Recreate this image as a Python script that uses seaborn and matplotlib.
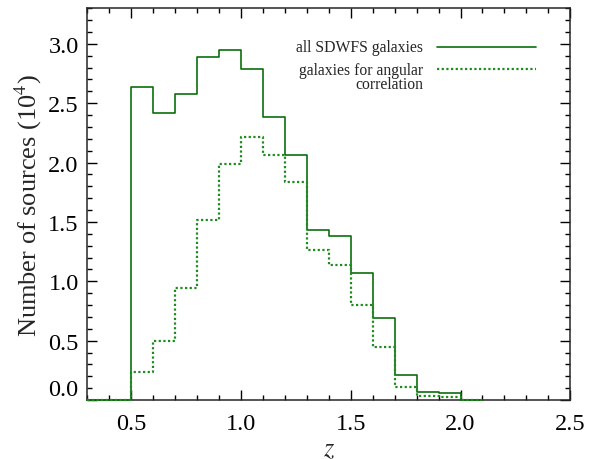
"""Redshift distribution of SDWFS galaxies — step histograms."""

import matplotlib
matplotlib.use("Agg")
import matplotlib.pyplot as plt
import numpy as np
import seaborn as sns
from matplotlib.ticker import MultipleLocator

# bin edges in z (0.1 wide) and counts in units of 10^4
bin_edges = [0.3, 0.4, 0.5, 0.6, 0.7, 0.8, 0.9, 1.0, 1.1, 1.2, 1.3,
             1.4, 1.5, 1.6, 1.7, 1.8, 1.9, 2.0, 2.1]
all_sdwfs = [0.0, 0.0, 2.64, 2.42, 2.58, 2.89, 2.945, 2.79, 2.38, 2.06,
             1.43, 1.38, 1.07, 0.69, 0.21, 0.07, 0.056, 0.0]
angular = [0.0, 0.0, 0.24, 0.50, 0.94, 1.52, 1.99, 2.215, 2.06, 1.84,
           1.26, 1.14, 0.80, 0.45, 0.11, 0.036, 0.028, 0.0]
labels = ["all SDWFS galaxies", "galaxies for angular\ncorrelation"]

GREEN = "#0b6e0b"
GREEN_DOT = "#1f8a1f"
DOTS = (0, (1, 1.1))

sns.set_style("ticks")
plt.rcParams["font.family"] = ["Liberation Serif", "DejaVu Serif"]
plt.rcParams["mathtext.fontset"] = "stix"

fig, ax = plt.subplots(figsize=(5.96, 4.6), dpi=100)
fig.subplots_adjust(left=0.146, right=0.957, top=0.98, bottom=0.128)

centers = np.array(bin_edges[:-1]) + 0.05
sns.histplot(x=centers, weights=all_sdwfs, bins=bin_edges, element="step",
             fill=False, color=GREEN, linewidth=1.2, zorder=3, clip_on=False,
             ax=ax)
sns.histplot(x=centers, weights=angular, bins=bin_edges, element="step",
             fill=False, color=GREEN_DOT, linewidth=1.6, linestyle=DOTS,
             zorder=3, clip_on=False, ax=ax)

ax.set_xlim(0.3, 2.5)
ax.set_ylim(0, 3.3)
ax.xaxis.set_major_locator(MultipleLocator(0.5))
ax.xaxis.set_minor_locator(MultipleLocator(0.1))
ax.yaxis.set_major_locator(MultipleLocator(0.5))
ax.yaxis.set_minor_locator(MultipleLocator(0.1))
ax.xaxis.set_major_formatter(plt.FormatStrFormatter("%.1f"))
ax.yaxis.set_major_formatter(plt.FormatStrFormatter("%.1f"))

ax.tick_params(which="both", direction="in", top=True, right=True,
               labelsize=17.5, width=1, colors="black")
ax.tick_params(which="major", length=7, pad=6)
ax.tick_params(axis="x", which="major", pad=9)
ax.tick_params(which="minor", length=3.5)
for sp in ax.spines.values():
    sp.set_linewidth(1.1)
    sp.set_visible(True)

ax.set_xlabel("$z$", fontsize=19, labelpad=3)
ax.set_ylabel("Number of sources (10$^4$)", fontsize=19, labelpad=3)

# IDL-style legend: text on the left, sample line on the right
leg_x0, leg_x1 = 0.724, 0.929
ax.plot([leg_x0, leg_x1], [0.9005, 0.9005], transform=ax.transAxes,
        color=GREEN, lw=1.2)
ax.plot([leg_x0, leg_x1], [0.844, 0.844], transform=ax.transAxes,
        color=GREEN_DOT, lw=1.6, linestyle=DOTS)
ax.text(0.696, 0.9005, labels[0], transform=ax.transAxes, ha="right",
        va="center", fontsize=11.3)
ax.text(0.696, 0.862, labels[1], transform=ax.transAxes, ha="right",
        va="top", fontsize=11.3, linespacing=0.85, multialignment="right")

# the 0.0 label sits just above the bottom axis, as in the original
fig.canvas.draw()
for tick in ax.yaxis.get_major_ticks():
    if abs(tick.get_loc()) < 1e-9:
        tick.label1.set_verticalalignment("bottom")

fig.savefig("out.png", dpi=100)
